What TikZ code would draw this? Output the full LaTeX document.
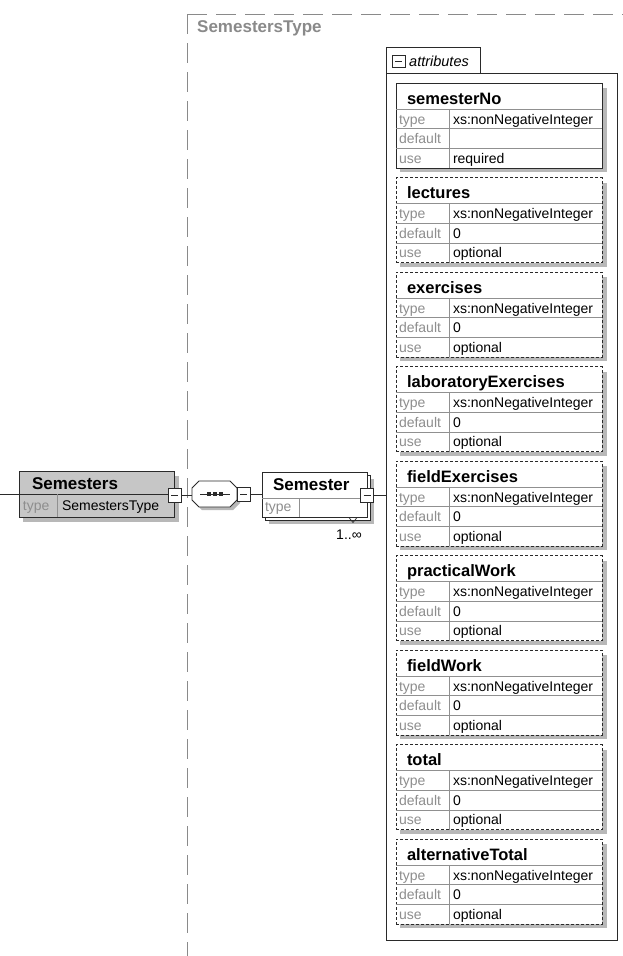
\documentclass[tikz,border=0pt]{standalone}
\usepackage{fontspec}
\setmainfont{Liberation Sans}
\usetikzlibrary{calc}

\definecolor{framegray}{HTML}{8A8A8A}
\definecolor{labelgray}{HTML}{8E8E8E}
\definecolor{shadowgray}{HTML}{B8B8B8}
\definecolor{elemfill}{HTML}{C6C6C6}
\definecolor{rulegray}{HTML}{909090}
\definecolor{edgeblack}{HTML}{2A2A2A}

\tikzset{
  hdr/.style={font=\fontsize{16.5}{18}\selectfont\bfseries, anchor=base west, inner sep=0, outer sep=0},
  lbl/.style={font=\fontsize{14}{16}\selectfont, text=labelgray, anchor=base west, inner sep=0, outer sep=0},
  val/.style={font=\fontsize{14}{16}\selectfont, anchor=base west, inner sep=0, outer sep=0},
  boxshape/.style={draw=edgeblack, line width=0.9pt, inner sep=0, outer sep=0, anchor=north west},
  reqbox/.style={boxshape, fill=white},
  optbox/.style={boxshape, fill=white, dash pattern=on 3pt off 2pt},
  shadowfill/.style={fill=shadowgray, draw=none},
  rowline/.style={draw=rulegray, line width=0.6pt},
  conn/.style={draw=edgeblack, line width=0.8pt},
  minusbox/.style={draw=edgeblack, fill=white, line width=0.8pt, minimum width=13pt,
    minimum height=14pt, inner sep=0, outer sep=0,
    path picture={\draw[edgeblack, line width=0.9pt]
      ([xshift=3pt]path picture bounding box.west) -- ([xshift=-3pt]path picture bounding box.east);}},
}

% one attribute declaration: node name, top edge, border style, name, default, use
\newcommand{\xsattr}[6]{%
  \fill[shadowfill] (400,#2+5) rectangle (606.5,#2+89);
  \node[#3, minimum width=206pt, minimum height=85pt] (#1) at (396,#2) {};
  \draw[rowline] (396,#2+26) -- (602,#2+26);
  \draw[rowline] (396,#2+45.67) -- (602,#2+45.67);
  \draw[rowline] (396,#2+65.33) -- (602,#2+65.33);
  \draw[rowline] (449,#2+26) -- (449,#2+85);
  \node[hdr] (#1-name) at (407,#2+21) {#4};
  \node[lbl] (#1-tl) at (399,#2+41) {type};
  \node[val] (#1-tv) at (453,#2+41) {xs:nonNegativeInteger};
  \node[lbl] (#1-dl) at (399,#2+60.67) {default};
  \node[val] (#1-dv) at (453,#2+60.67) {#5};
  \node[lbl] (#1-ul) at (399,#2+80.33) {use};
  \node[val] (#1-uv) at (453,#2+80.33) {#6};
}

\begin{document}
\begin{tikzpicture}[x=1pt, y=-1pt]
\useasboundingbox[fill=white] (0,0) rectangle (623,956);

% complex type frame
\draw[framegray, line width=1pt, dash pattern=on 20pt off 9pt] (187,14) -- (623,14);
\draw[framegray, line width=1pt, dash pattern=on 20pt off 9pt] (187,14) -- (187,956);
\node[font=\fontsize{17}{19}\selectfont\bfseries, text=framegray, anchor=base west, inner sep=0] (typename) at (197,32) {SemestersType};

% attributes group
\draw[edgeblack, line width=0.9pt] (386,73) -- (386,47) -- (480,47) -- (480,73);
\node[draw=edgeblack, line width=0.9pt, anchor=north west, inner sep=0, outer sep=0,
      minimum width=231pt, minimum height=867pt] (attrs) at (386,73) {};
\node[minusbox, minimum height=12pt] (attrmin) at (398.5,61) {};
\node[font=\fontsize{14.5}{16}\selectfont\itshape, anchor=base west, inner sep=0] (attrlabel) at (409,66) {attributes};

\xsattr{a0}{83}{reqbox}{semesterNo}{}{required}
\xsattr{a1}{177.5}{optbox}{lectures}{0}{optional}
\xsattr{a2}{272}{optbox}{exercises}{0}{optional}
\xsattr{a3}{366.5}{optbox}{laboratoryExercises}{0}{optional}
\xsattr{a4}{461}{optbox}{fieldExercises}{0}{optional}
\xsattr{a5}{555.5}{optbox}{practicalWork}{0}{optional}
\xsattr{a6}{650}{optbox}{fieldWork}{0}{optional}
\xsattr{a7}{744.5}{optbox}{total}{0}{optional}
\xsattr{a8}{839}{optbox}{alternativeTotal}{0}{optional}

% root element Semesters
\coordinate (entry) at (0,494);
\fill[shadowfill] (23,476) rectangle (178.5,521.5);
\node[boxshape, fill=elemfill, minimum width=155pt, minimum height=46pt] (semesters) at (19,471) {};
\draw[edgeblack, line width=0.7pt] (19,494) -- (174,494);
\draw[rowline] (57,494) -- (57,517);
\node[hdr, font=\fontsize{17}{19}\selectfont\bfseries] (semesters-name) at (32,489) {Semesters};
\node[lbl] (semesters-tl) at (23,510.5) {type};
\node[val] (semesters-tv) at (62,510.5) {SemestersType};
\node[minusbox] (semmin) at (174.5,495) {};

% sequence compositor
\node[inner sep=0, outer sep=0, minimum width=45pt, minimum height=26pt] (seq) at (214.5,494) {};
\fill[shadowfill] (195,491) -- (202,484) -- (233,484) -- (240,491) -- (240,503) -- (233,510) -- (202,510) -- (195,503) -- cycle;
\draw[edgeblack, fill=white, line width=0.9pt]
  (192,488) -- (199,481) -- (230,481) -- (237,488) -- (237,500) -- (230,507) -- (199,507) -- (192,500) -- cycle;
\draw[edgeblack, line width=0.8pt] (200,494) -- (230,494);
\foreach \dx in {209,215,221} {\fill[edgeblack] (\dx-1.7,492.3) rectangle (\dx+1.7,495.7);}
\node[minusbox] (seqmin) at (243.5,494.5) {};

% child element Semester (1..unbounded)
\fill[shadowfill] (269,479) rectangle (374,524);
\node[boxshape, fill=white, minimum width=105pt, minimum height=45pt] (semback) at (265,475) {};
\node[boxshape, fill=white, minimum width=105pt, minimum height=45pt] (semester) at (262,472) {};
\draw[rowline] (262,498) -- (367,498);
\draw[rowline] (299,498) -- (299,517);
\node[hdr, font=\fontsize{17}{19}\selectfont\bfseries] (semester-name) at (273,490) {Semester};
\node[lbl] (semester-tl) at (265,511) {type};
\node[minusbox] (semestermin) at (367,495) {};
\draw[edgeblack, line width=0.7pt] (349,517.5) -- (353,522.5) -- (357,517.5);
\node[font=\fontsize{14}{16}\selectfont, anchor=base, inner sep=0] (card) at (349,539) {1..∞};

% connectors
\draw[conn] (entry) -- (semesters.west);
\draw[conn] (semmin.east) -- (semmin.east -| seq.west);
\draw[conn] (seqmin.east) -- (seqmin.east -| semester.west);
\draw[conn] (semestermin.east) -- (semestermin.east -| attrs.west);
\end{tikzpicture}
\end{document}
